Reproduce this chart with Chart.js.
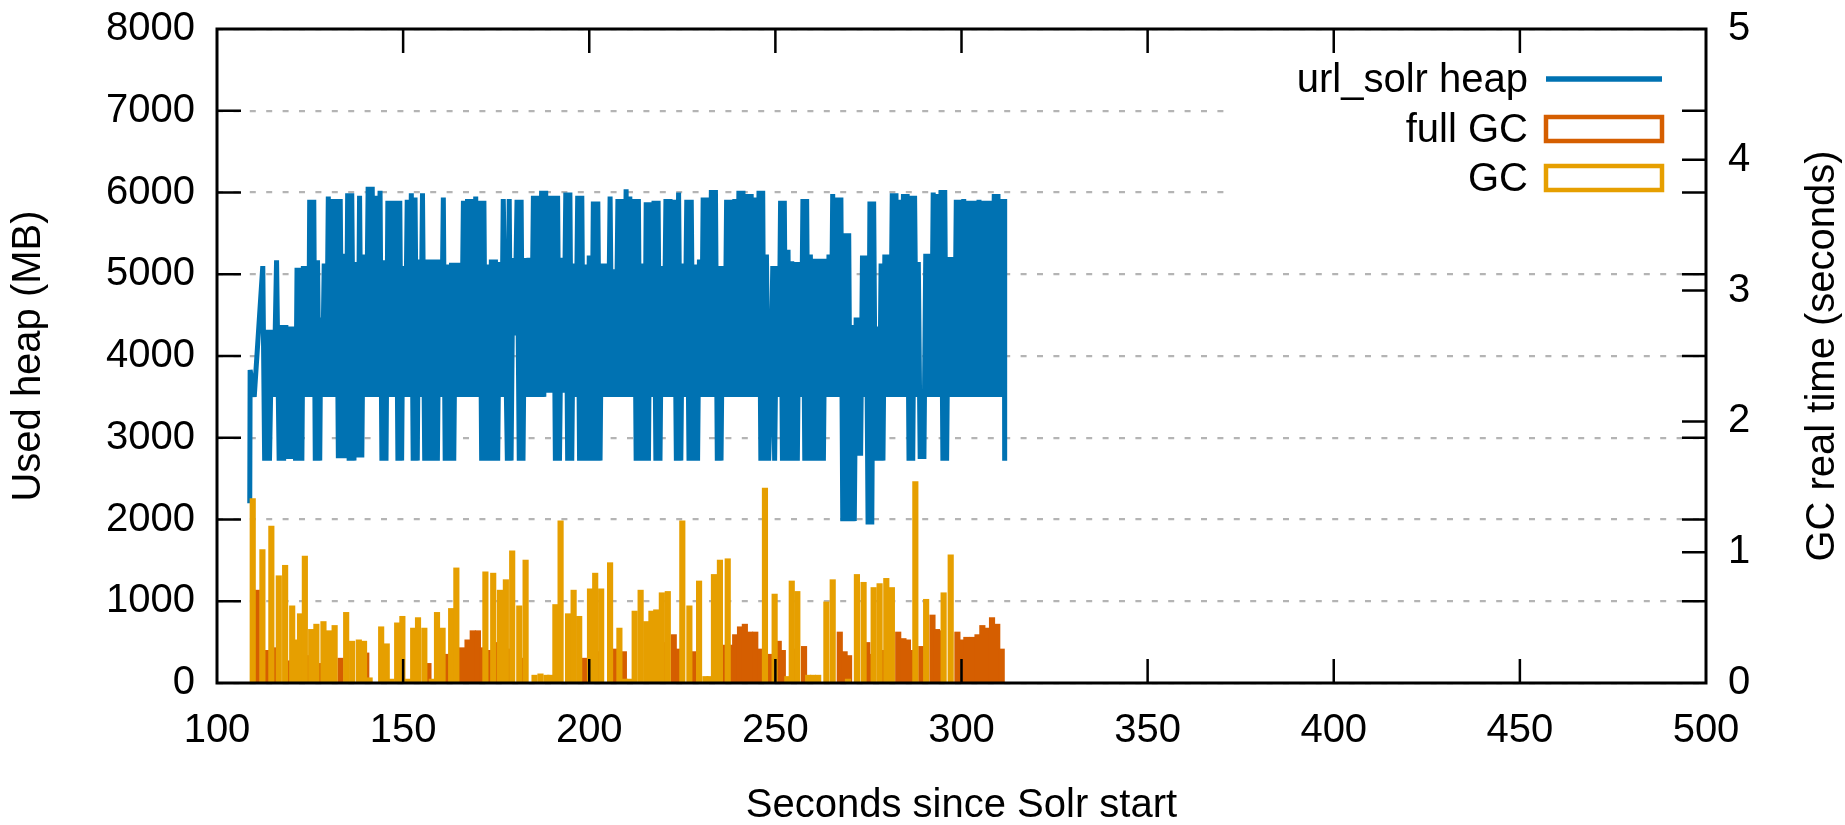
<!DOCTYPE html>
<html>
<head>
<meta charset="utf-8">
<title>url_solr heap and GC pauses</title>
<script src="https://cdn.jsdelivr.net/npm/chart.js@4.4.1/dist/chart.umd.min.js"></script>
<style>
  html, body { margin: 0; padding: 0; background: #fff; }
</style>
</head>
<body>
<canvas id="chart" width="1845" height="825"></canvas>
<script>
// heap samples: seconds since Solr start / used heap in MB
const heapSec = [
  108.8, 108.9, 109.5, 110.0, 112.3, 112.8, 113.5, 114.1, 114.7, 115.3,
  116.0, 116.7, 117.3, 117.9, 118.5, 119.1, 119.7, 120.3, 120.8, 121.1,
  121.5, 121.9, 122.5, 122.8, 123.2, 123.8, 124.3, 124.6, 124.9, 125.4,
  126.0, 126.4, 127.0, 127.6, 127.9, 128.3, 128.8, 129.4, 129.9, 130.4,
  130.9, 131.5, 132.1, 132.6, 133.1, 133.7, 134.2, 134.6, 135.1, 135.5,
  136.2, 136.8, 137.2, 137.8, 138.3, 138.9, 139.4, 140.0, 140.6, 141.1,
  141.7, 142.2, 142.6, 143.2, 143.8, 144.3, 144.9, 145.4, 145.9, 146.4,
  147.0, 147.6, 148.1, 148.6, 149.1, 149.6, 150.0, 150.5, 151.1, 151.6,
  152.2, 152.7, 153.2, 153.8, 154.2, 154.7, 155.2, 155.8, 156.3, 156.9,
  157.5, 158.1, 158.7, 159.2, 159.7, 160.2, 160.8, 161.3, 161.9, 162.5,
  163.0, 163.6, 164.1, 164.6, 165.1, 165.6, 166.2, 166.7, 167.3, 167.8,
  168.4, 168.9, 169.5, 170.0, 170.6, 171.1, 171.7, 172.2, 172.7, 173.2,
  173.7, 174.3, 174.8, 175.4, 175.9, 176.4, 176.9, 177.5, 178.0, 178.5,
  179.0, 179.5, 180.0, 180.6, 181.2, 181.7, 182.2, 182.7, 183.3, 183.8,
  184.4, 185.0, 185.5, 186.1, 186.6, 187.2, 187.8, 188.3, 188.8, 189.3,
  189.8, 190.4, 190.9, 191.5, 192.0, 192.6, 193.1, 193.7, 194.2, 194.8,
  195.3, 195.8, 196.3, 196.9, 197.4, 198.0, 198.5, 199.0, 199.5, 200.0,
  200.5, 201.1, 201.7, 202.3, 202.9, 203.4, 204.0, 204.5, 205.0, 205.6,
  206.1, 206.6, 207.1, 207.7, 208.2, 208.8, 209.3, 209.9, 210.4, 210.9,
  211.5, 212.1, 212.6, 213.2, 213.7, 214.2, 214.8, 215.3, 215.9, 216.4,
  216.9, 217.4, 217.9, 218.5, 219.0, 219.5, 220.0, 220.6, 221.1, 221.7,
  222.3, 222.8, 223.4, 224.0, 224.6, 225.1, 225.6, 226.2, 226.8, 227.4,
  228.0, 228.5, 229.1, 229.6, 230.1, 230.6, 231.2, 231.8, 232.3, 232.8,
  233.4, 233.9, 234.4, 234.9, 235.4, 235.9, 236.4, 236.9, 237.5, 238.0,
  238.6, 239.1, 239.6, 240.2, 240.7, 241.3, 241.8, 242.4, 242.9, 243.5,
  244.0, 244.6, 245.1, 245.6, 246.1, 246.6, 247.0, 247.6, 248.2, 248.7,
  249.3, 249.8, 250.4, 250.9, 251.4, 251.9, 252.4, 252.9, 253.4, 253.9,
  254.4, 254.9, 255.4, 255.9, 256.4, 256.9, 257.4, 257.9, 258.4, 258.9,
  259.4, 259.9, 260.4, 260.9, 261.4, 261.9, 262.4, 262.9, 263.4, 263.9,
  264.4, 264.9, 265.4, 265.9, 266.5, 267.0, 267.6, 268.1, 268.7, 269.2,
  269.7, 270.2, 270.7, 271.2, 271.7, 272.1, 272.5, 272.9, 273.4, 273.9,
  274.4, 274.9, 275.4, 275.9, 276.4, 276.9, 277.4, 277.9, 278.4, 278.9,
  279.4, 279.9, 280.4, 280.9, 281.4, 281.9, 282.4, 282.9, 283.4, 283.9,
  284.4, 284.9, 285.4, 285.9, 286.4, 286.9, 287.4, 287.9, 288.4, 288.9,
  289.4, 289.9, 290.4, 290.9, 291.4, 291.9, 292.4, 292.9, 293.4, 293.9,
  294.5, 295.0, 295.5, 296.0, 296.5, 297.0, 297.6, 298.1, 298.6, 299.1,
  299.6, 300.1, 300.6, 301.1, 301.6, 302.1, 302.7, 303.2, 303.7, 304.2,
  304.7, 305.2, 305.7, 306.2, 306.7, 307.2, 307.7, 308.2, 308.8, 309.3,
  309.8, 310.3, 310.8, 311.3, 311.5, 311.6
]
const heapMB = [
  2200, 3830, 3650, 3500, 5100, 2720, 4320, 2720, 4320, 3500,
  5170, 2720, 4380, 2720, 4380, 2740, 4360, 2740, 4360, 2720,
  5080, 2720, 5080, 2720, 5100, 3500, 5100, 3500, 5910, 3500,
  5910, 2720, 5170, 2720, 4470, 3500, 5130, 3500, 5950, 3500,
  5920, 3500, 5920, 2750, 5920, 2750, 5250, 2750, 5990, 2720,
  5990, 2720, 5150, 2760, 5960, 2760, 5240, 3500, 6070, 3500,
  6070, 3500, 5960, 3500, 6020, 2720, 5170, 2720, 5900, 3500,
  5900, 3500, 5900, 2720, 5900, 2720, 5100, 3500, 5910, 3500,
  5990, 2720, 5940, 2720, 5180, 3500, 5990, 2720, 5180, 2720,
  5180, 2720, 5180, 2720, 5180, 3500, 5940, 2720, 5120, 2720,
  5140, 2720, 5140, 3500, 5140, 3500, 5900, 3500, 5920, 3500,
  5920, 3500, 5950, 3500, 5900, 2720, 5900, 2720, 5120, 2720,
  5180, 2720, 5180, 2720, 5150, 3500, 5920, 4250, 2720, 5920,
  2720, 5200, 4250, 5910, 2720, 5910, 2720, 5200, 3500, 5200,
  3500, 5960, 3500, 5960, 3500, 6020, 3500, 6020, 3550, 5960,
  3550, 5960, 2720, 5960, 2720, 5200, 3550, 6000, 2720, 6000,
  2720, 5130, 3500, 5960, 2720, 5960, 2720, 5120, 2720, 5230,
  2720, 5890, 2720, 5890, 2720, 5130, 3500, 5130, 3500, 5950,
  3500, 5060, 3500, 5920, 3500, 5920, 3500, 6040, 3500, 5950,
  3500, 5920, 2720, 5920, 2720, 5130, 2720, 5880, 2720, 5880,
  3500, 5900, 2720, 5900, 2720, 5100, 3500, 5920, 3500, 5920,
  3500, 5910, 2720, 6000, 2720, 5130, 3500, 5910, 2720, 5910,
  2720, 5120, 2720, 5180, 3500, 5940, 3500, 5940, 3500, 6030,
  3500, 6030, 2720, 5100, 2720, 5100, 3500, 5910, 3500, 5910,
  3500, 5920, 3500, 6020, 3500, 6020, 3500, 5980, 3500, 5980,
  3500, 5940, 3500, 6020, 2720, 6020, 2720, 5240, 2720, 3500,
  5100, 2720, 5100, 3500, 5900, 2720, 5900, 2720, 5300, 2720,
  5160, 2720, 5150, 2720, 5150, 3500, 5920, 2720, 5920, 2720,
  5240, 2720, 5190, 2720, 5190, 2720, 5190, 2720, 5190, 3500,
  5240, 3500, 5980, 3500, 5940, 3500, 5940, 1980, 5500, 1980,
  5500, 1980, 4380, 1980, 4470, 2780, 4470, 2780, 5230, 3500,
  5230, 1940, 5890, 1940, 5890, 2720, 4360, 2720, 5130, 2720,
  5240, 3500, 5240, 3500, 5990, 3500, 5990, 3500, 5910, 3500,
  5980, 3500, 5980, 2720, 5960, 2720, 5960, 3500, 5150, 2740,
  3550, 2740, 5250, 3500, 5250, 3500, 6000, 3500, 5980, 3500,
  6030, 2720, 6030, 2720, 5210, 3500, 5210, 3500, 5910, 3500,
  5910, 3500, 5920, 3500, 5900, 3500, 5900, 3500, 5900, 3500,
  5910, 3500, 5900, 3500, 5900, 3500, 5900, 3500, 5980, 3500,
  5980, 3500, 5920, 3500, 5920, 2720
]

// young GC pauses (seconds, right axis)
const gcSec = [
  109.6, 112.2, 114.6, 116.6, 118.3, 120.2, 121.5, 122.3, 123.6, 125.3,
  126.7, 128.6, 130.1, 131.6, 134.7, 136.3, 138.1, 139.5, 141.0, 144.1,
  145.6, 146.9, 148.4, 149.8, 151.3, 152.7, 154.0, 155.7, 157.7, 159.1,
  160.6, 162.9, 164.3, 172.1, 174.2, 176.0, 177.6, 179.3, 181.2, 182.9,
  185.3, 186.9, 188.5, 189.5, 190.9, 192.3, 194.3, 195.8, 197.3, 200.2,
  201.6, 203.2, 205.6, 208.1, 209.5, 210.8, 212.2, 213.8, 215.3, 216.7,
  218.0, 219.5, 221.1, 225.0, 226.9, 229.5, 231.2, 232.3, 233.5, 235.1,
  237.2, 247.2, 249.8, 253.2, 254.4, 255.9, 258.8, 260.1, 261.5, 263.7,
  265.4, 269.5, 271.9, 273.7, 276.4, 278.0, 279.8, 281.3, 287.6, 290.5,
  295.2, 297.1
]
const gcPause = [
  1.41, 1.02, 1.20, 0.82, 0.90, 0.59, 0.33, 0.53, 0.97, 0.41,
  0.45, 0.47, 0.40, 0.44, 0.54, 0.32, 0.33, 0.32, 0.04, 0.43,
  0.30, 0.03, 0.46, 0.51, 0.03, 0.42, 0.50, 0.42, 0.03, 0.54,
  0.42, 0.57, 0.88, 0.85, 0.84, 0.71, 0.79, 1.01, 0.59, 0.94,
  0.06, 0.07, 0.06, 0.06, 0.60, 1.24, 0.53, 0.71, 0.51, 0.72,
  0.84, 0.72, 0.92, 0.42, 0.03, 0.03, 0.55, 0.71, 0.47, 0.55,
  0.56, 0.69, 0.70, 1.24, 0.59, 0.78, 0.05, 0.05, 0.83, 0.94,
  0.95, 1.49, 0.68, 0.05, 0.78, 0.70, 0.06, 0.06, 0.06, 0.62,
  0.79, 0.03, 0.83, 0.77, 0.73, 0.76, 0.80, 0.73, 1.54, 0.64,
  0.69, 0.98
]

// full GC pauses (seconds, right axis)
const fullSec = [
  110.7, 113.4, 115.6, 119.3, 124.5, 127.6, 133.2, 140.1, 156.8, 161.6,
  165.8, 167.3, 168.7, 170.1, 171.4, 173.3, 175.1, 178.5, 182.2, 198.6,
  202.9, 207.1, 209.3, 220.3, 222.7, 223.9, 227.9, 236.4, 237.8, 239.2,
  240.5, 241.8, 243.2, 244.6, 245.9, 248.5, 250.9, 252.0, 255.3, 257.7,
  267.3, 268.6, 269.8, 274.7, 275.6, 278.9, 283.0, 284.4, 285.6, 286.5,
  289.2, 292.2, 293.4, 294.4, 298.9, 300.2, 301.3, 302.8, 304.3, 305.6,
  306.9, 308.2, 309.6, 310.8
]
const fullPause = [
  0.71, 0.25, 0.27, 0.17, 0.21, 0.15, 0.19, 0.23, 0.15, 0.22,
  0.27, 0.33, 0.40, 0.40, 0.27, 0.25, 0.31, 0.26, 0.19, 0.19,
  0.24, 0.26, 0.24, 0.31, 0.37, 0.26, 0.24, 0.29, 0.29, 0.37,
  0.43, 0.45, 0.39, 0.39, 0.26, 0.22, 0.32, 0.25, 0.26, 0.28,
  0.39, 0.24, 0.21, 0.31, 0.22, 0.25, 0.39, 0.34, 0.33, 0.25,
  0.28, 0.52, 0.41, 0.40, 0.39, 0.33, 0.35, 0.35, 0.37, 0.44,
  0.42, 0.50, 0.45, 0.26
]

const FONT = '"Liberation Sans", Arial, sans-serif'
const BLUE = '#0072b2'
const VERMILLION = '#d55e00'
const ORANGE = '#e69f00'

Chart.defaults.font.family = FONT
Chart.defaults.font.size = 40
Chart.defaults.color = '#000'

const toPoints = (xs, ys) => xs.map((x, i) => ({ x: x, y: ys[i] }))

// keep the plot box where gnuplot put it, labels may hang outside
const noEdgePadding = s => {
  s.paddingTop = 0
  s.paddingBottom = 0
  s.paddingLeft = 0
  s.paddingRight = 0
}

// gnuplot look: border, inward ticks, opaque key, right axis label
const gnuplotFrame = {
  id: 'gnuplotFrame',
  afterDatasetsDraw(chart) {
    const { ctx, chartArea: a } = chart
    const { x, y, y2 } = chart.scales
    ctx.save()

    // key
    ctx.fillStyle = '#fff'
    ctx.fillRect(1224, a.top + 3, a.right - 1224 - 3, 180)
    ctx.font = '40px ' + FONT
    ctx.textAlign = 'right'
    ctx.textBaseline = 'alphabetic'
    const rows = [
      { ds: chart.data.datasets[2], base: 92, mid: 79, line: true },
      { ds: chart.data.datasets[1], base: 142, mid: 129 },
      { ds: chart.data.datasets[0], base: 191, mid: 178 }
    ]
    rows.forEach(r => {
      ctx.fillStyle = '#000'
      ctx.fillText(r.ds.label, 1528, r.base)
      if (r.line) {
        ctx.strokeStyle = r.ds.borderColor
        ctx.lineWidth = 5.5
        ctx.beginPath()
        ctx.moveTo(1546, r.mid)
        ctx.lineTo(1662, r.mid)
        ctx.stroke()
      } else {
        ctx.strokeStyle = r.ds.backgroundColor
        ctx.lineWidth = 4.5
        ctx.strokeRect(1546, r.mid - 12, 116, 24)
      }
    })

    // ticks
    ctx.strokeStyle = '#000'
    ctx.lineWidth = 2.5
    ctx.beginPath()
    for (let v = 150; v < 500; v += 50) {
      const px = x.getPixelForValue(v)
      ctx.moveTo(px, a.bottom); ctx.lineTo(px, a.bottom - 24)
      ctx.moveTo(px, a.top); ctx.lineTo(px, a.top + 24)
    }
    for (let v = 1000; v < 8000; v += 1000) {
      const py = y.getPixelForValue(v)
      ctx.moveTo(a.left, py); ctx.lineTo(a.left + 24, py)
      ctx.moveTo(a.right, py); ctx.lineTo(a.right - 24, py)
    }
    for (let v = 1; v < 5; v++) {
      const py = y2.getPixelForValue(v)
      ctx.moveTo(a.right, py); ctx.lineTo(a.right - 24, py)
    }
    ctx.stroke()

    // border
    ctx.lineWidth = 3
    ctx.strokeRect(a.left, a.top, a.right - a.left, a.bottom - a.top)

    // right axis title, reading bottom to top like the left one
    ctx.translate(1823, (a.top + a.bottom) / 2)
    ctx.rotate(-Math.PI / 2)
    ctx.textAlign = 'center'
    ctx.textBaseline = 'middle'
    ctx.fillStyle = '#000'
    ctx.fillText('GC real time (seconds)', 0, 0)
    ctx.restore()
  }
}

new Chart(document.getElementById('chart'), {
  type: 'bar',
  data: {
    datasets: [
      {
        type: 'bar',
        label: 'GC',
        data: toPoints(gcSec, gcPause),
        yAxisID: 'y2',
        backgroundColor: ORANGE,
        barThickness: 5.5,
        grouped: false,
        order: 0
      },
      {
        type: 'bar',
        label: 'full GC',
        data: toPoints(fullSec, fullPause),
        yAxisID: 'y2',
        backgroundColor: VERMILLION,
        barThickness: 5.5,
        grouped: false,
        order: 1
      },
      {
        type: 'line',
        label: 'url_solr heap',
        data: toPoints(heapSec, heapMB),
        yAxisID: 'y',
        borderColor: BLUE,
        borderWidth: 5,
        borderJoinStyle: 'bevel',
        pointRadius: 0,
        tension: 0,
        fill: false,
        order: 2
      }
    ]
  },
  options: {
    responsive: false,
    animation: false,
    layout: { padding: { top: 29, left: 0, right: 0, bottom: 0 } },
    plugins: {
      legend: { display: false },
      tooltip: { enabled: false }
    },
    scales: {
      x: {
        type: 'linear',
        position: 'bottom',
        min: 100,
        max: 500,
        offset: false,
        grid: { display: false, drawTicks: false, offset: false },
        border: { display: false },
        ticks: { stepSize: 50, padding: 24, maxRotation: 0, autoSkip: false, callback: v => String(v) },
        title: { display: true, text: 'Seconds since Solr start', padding: { top: 0, bottom: -5 } },
        afterFit: s => { s.height = 142; noEdgePadding(s) }
      },
      y: {
        type: 'linear',
        position: 'left',
        min: 0,
        max: 8000,
        grid: { color: '#b4b4b4', lineWidth: 2.2, drawTicks: false },
        border: { display: false, dash: [6, 10.4] },
        ticks: { stepSize: 1000, padding: 22, callback: v => String(v) },
        title: { display: true, text: 'Used heap (MB)', padding: { top: 5, bottom: 0 } },
        afterFit: s => { s.width = 217; noEdgePadding(s) }
      },
      y2: {
        type: 'linear',
        position: 'right',
        min: 0,
        max: 5,
        grid: { display: false, drawTicks: false },
        border: { display: false },
        ticks: { stepSize: 1, padding: 22, callback: v => String(v) },
        afterFit: s => { s.width = 139; noEdgePadding(s) }
      }
    }
  },
  plugins: [gnuplotFrame]
})
</script>
</body>
</html>
